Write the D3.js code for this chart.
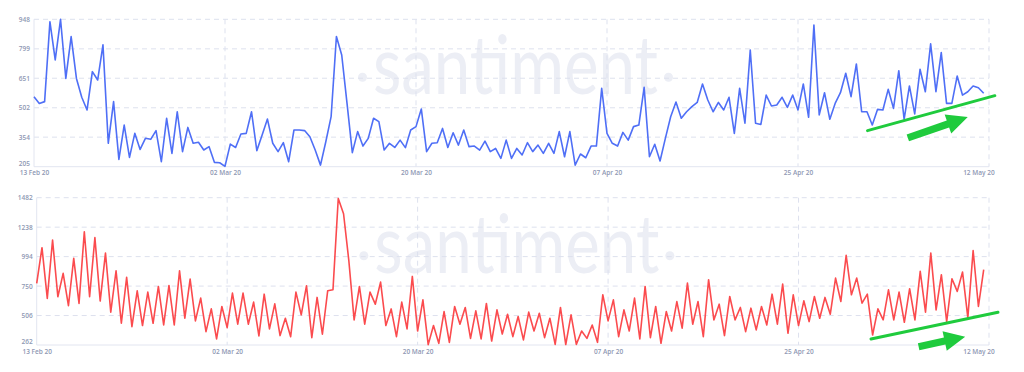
<!DOCTYPE html>
<html>
<head>
<meta charset="utf-8">
<script src="https://cdn.jsdelivr.net/npm/d3@7"></script>
<style>
  body { margin: 0; background: #fff; }
  .tick text { font-family: 'Open Sans', sans-serif; font-size: 6.5px; font-weight: 600; fill: #8e97b3; }
</style>
</head>
<body>
<div class="charts"></div>
<script>

// ---- data (12h candles, 13 Feb 20 -> 12 May 20) ----
var startDate = '2020-02-13'
var xTickDates = ['2020-02-13', '2020-03-02', '2020-03-20', '2020-04-07', '2020-04-25', '2020-05-12']

var topTicks = [205, 354, 502, 651, 799, 948]
var bottomTicks = [262, 506, 750, 994, 1238, 1482]

var blueValues = [558, 524, 533, 936, 743, 948, 650, 861, 650, 555, 491, 684, 642, 819, 323, 533, 242, 415, 252, 373,
    292, 348, 343, 387, 230, 449, 272, 482, 281, 403, 323, 328, 289, 306, 227, 225, 207, 319, 302, 370,
    373, 482, 286, 365, 445, 323, 281, 326, 230, 390, 390, 387, 356, 289, 213, 331, 457, 861, 768, 524,
    276, 382, 309, 348, 449, 432, 289, 323, 302, 339, 301, 390, 407, 496, 281, 323, 326, 398, 302, 376,
    314, 390, 306, 309, 289, 334, 281, 297, 247, 339, 247, 297, 264, 326, 281, 314, 272, 323, 272, 382,
    255, 382, 213, 269, 250, 309, 309, 600, 373, 323, 309, 378, 339, 407, 415, 605, 255, 318, 234, 348,
    457, 531, 449, 482, 508, 529, 622, 541, 482, 529, 491, 555, 373, 600, 424, 793, 424, 418, 566, 511,
    516, 555, 504, 566, 491, 622, 454, 919, 466, 578, 444, 524, 578, 676, 558, 723, 482, 482, 415, 494,
    491, 595, 499, 689, 444, 612, 471, 696, 583, 824, 583, 780, 524, 524, 662, 566, 583, 612, 603, 575]

var redValues = [773, 1068, 648, 1131, 662, 855, 588, 980, 607, 1200, 662, 1151, 626, 1024, 534, 877, 442, 822, 414, 711,
    423, 700, 442, 747, 428, 755, 428, 877, 484, 808, 462, 650, 373, 561, 312, 581, 406, 692, 434, 692,
    434, 617, 337, 683, 395, 603, 340, 484, 331, 700, 512, 753, 323, 656, 351, 711, 719, 1476, 1349, 960,
    470, 747, 434, 700, 600, 783, 423, 561, 331, 617, 395, 830, 378, 636, 265, 423, 276, 539, 284, 581,
    434, 573, 317, 545, 312, 606, 295, 553, 353, 517, 331, 498, 304, 534, 378, 525, 323, 484, 267, 573,
    266, 512, 267, 378, 317, 428, 284, 678, 462, 636, 331, 553, 378, 650, 312, 747, 323, 581, 276, 539,
    378, 622, 401, 775, 434, 622, 331, 803, 470, 600, 340, 664, 470, 573, 373, 567, 387, 581, 428, 683,
    434, 767, 359, 678, 423, 628, 456, 664, 484, 656, 517, 816, 622, 1005, 678, 816, 609, 683, 345, 561,
    470, 719, 470, 700, 450, 728, 470, 872, 534, 1024, 553, 844, 456, 811, 706, 866, 489, 1044, 581, 886]

// green annotations, [candle index, value]
var topTrend = [[157.1, 387], [181.1, 563]]
var topArrow = [[164.7, 350], [176.0, 455]]
var bottomTrend = [[157.7, 312], [181.7, 533]]
var bottomArrow = [[166.7, 248], [175.5, 331]]


var W = 1024, H = 372
var HALF_DAY = 12 * 3600 * 1000
var parse = d3.utcParse('%Y-%m-%d')
var t0 = parse(startDate).getTime()
function idxToDate(i) { return new Date(t0 + i * HALF_DAY) }

var svg = d3.select('.charts').append('svg')
    .attr('width', W)
    .attr('height', H)

function drawPanel(p) {
    var g = svg.append('g')

    var x = d3.scaleUtc()
        .domain([parse(startDate), idxToDate(180)])
        .range([p.left, 989])

    var y = d3.scaleLinear()
        .domain([p.ticks[0], p.ticks[p.ticks.length - 1]])
        .range([p.bottom, p.top])

    // watermark
    var cx = (p.left + 989) / 2 + 4
    var wm = g.append('g').attr('fill', '#eceef5')
    wm.append('text')
        .attr('x', cx).attr('y', p.top + 75)
        .attr('text-anchor', 'middle')
        .attr('textLength', 285)
        .attr('lengthAdjust', 'spacingAndGlyphs')
        .style('font-family', 'Lato, sans-serif')
        .style('font-weight', 400)
        .style('font-size', '82px')
        .text('santiment')
    wm.selectAll('circle').data([-153, 153]).enter().append('circle')
        .attr('cx', function(d){ return cx + d })
        .attr('cy', p.top + 58)
        .attr('r', 4.5)

    // horizontal dashed grid
    g.selectAll('.hgrid').data(p.ticks.slice(1)).enter().append('line')
        .attr('x1', p.left).attr('x2', 989)
        .attr('y1', function(d){ return y(d) }).attr('y2', function(d){ return y(d) })
        .attr('stroke', '#dde1ee').attr('stroke-width', 1)
        .attr('stroke-dasharray', '5,4')

    // vertical dashed grid (middle ticks + right border)
    var vDates = xTickDates.slice(1, 5).map(parse).concat([idxToDate(180)])
    g.selectAll('.vgrid').data(vDates).enter().append('line')
        .attr('x1', function(d){ return x(d) }).attr('x2', function(d){ return x(d) })
        .attr('y1', p.top).attr('y2', p.bottom)
        .attr('stroke', '#dde1ee').attr('stroke-width', 1)
        .attr('stroke-dasharray', '5,4')

    // axis lines
    g.append('line')
        .attr('x1', p.left).attr('x2', 989).attr('y1', p.bottom).attr('y2', p.bottom)
        .attr('stroke', '#e2e5f0')
    g.append('line')
        .attr('x1', p.left).attr('x2', p.left).attr('y1', p.top).attr('y2', p.bottom)
        .attr('stroke', '#e2e5f0')

    // axes
    var yAxis = d3.axisLeft(y).tickValues(p.ticks).tickFormat(d3.format('d'))
        .tickSize(0).tickPadding(4)
    var yAx = g.append('g')
        .attr('transform', 'translate(' + p.left + ',0)')
        .call(yAxis)
    yAx.select('.domain').remove()
    yAx.selectAll('.tick').filter(function(d){ return d === p.ticks[0] })
        .select('text').attr('dy', '-0.2em')

    var xAxis = d3.axisBottom(x)
        .tickValues(xTickDates.map(parse))
        .tickFormat(d3.utcFormat('%d %b %y'))
        .tickSize(0).tickPadding(4)
    var xAx = g.append('g')
        .attr('transform', 'translate(0,' + p.bottom + ')')
        .call(xAxis)
    xAx.select('.domain').remove()

    // series
    var line = d3.line()
        .x(function(d, i){ return x(idxToDate(i)) })
        .y(function(d){ return y(d) })

    g.append('path')
        .datum(p.values)
        .attr('d', line)
        .attr('fill', 'none')
        .attr('stroke', p.color)
        .attr('stroke-width', 1.6)
        .attr('stroke-linejoin', 'round')

    // green trend line
    var pt = function(a){ return [x(idxToDate(a[0])), y(a[1])] }
    g.append('path')
        .attr('d', d3.line()(p.trend.map(pt)))
        .attr('stroke', '#1fcb3d').attr('stroke-width', 3)
        .attr('stroke-linecap', 'round')

    // green arrow
    var a0 = pt(p.arrow[0]), a1 = pt(p.arrow[1])
    var len = Math.hypot(a1[0] - a0[0], a1[1] - a0[1])
    var ang = Math.atan2(a1[1] - a0[1], a1[0] - a0[0]) * 180 / Math.PI
    var head = 21, sh = 3.6, hw = 10
    g.append('polygon')
        .attr('points', [[0, -sh], [len - head, -sh], [len - head, -hw], [len, 0],
                         [len - head, hw], [len - head, sh], [0, sh]].join(' '))
        .attr('transform', 'translate(' + a0 + ') rotate(' + ang + ')')
        .attr('fill', '#1fcb3d')
}

drawPanel({ values: blueValues, ticks: topTicks, color: '#4f6ff6',
    left: 34, top: 19.3, bottom: 166.7, trend: topTrend, arrow: topArrow })

drawPanel({ values: redValues, ticks: bottomTicks, color: '#fb4b4e',
    left: 36.7, top: 197.7, bottom: 345, trend: bottomTrend, arrow: bottomArrow })

</script>
</body>
</html>
